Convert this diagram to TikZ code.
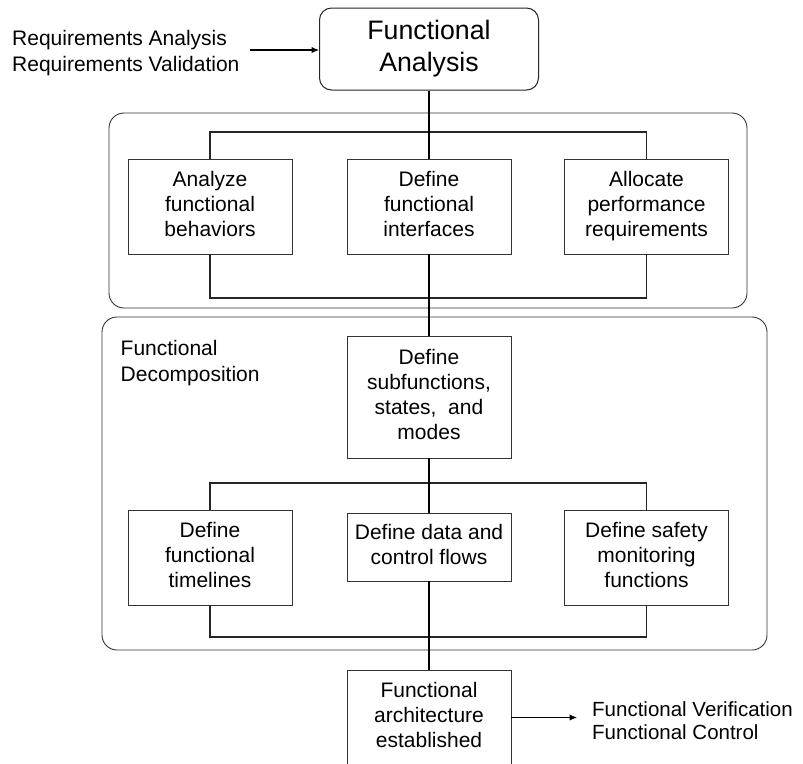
\documentclass[tikz,border=0pt]{standalone}
\usepackage{fontspec}
\setmainfont{Liberation Sans}
\usetikzlibrary{arrows.meta}
% invisible rules that fix the height above the first line and below the last
\newcommand{\topprop}{\rule{0pt}{19.5pt}}
\newcommand{\botprop}{\rule[-5.5pt]{0pt}{5.5pt}}
\begin{document}
\begin{tikzpicture}[x=1pt,y=-1pt,
  boxtxt/.style={font=\fontsize{21}{25}\selectfont},
  taskbox/.style={draw=black!80, line width=0.9pt, fill=white,
    minimum width=164pt, minimum height=95pt, inner sep=0pt,
    align=center, boxtxt,
    execute at begin node=\topprop, execute at end node=\botprop},
  headbox/.style={draw=black!85, line width=1pt, fill=white,
    rounded corners=12pt, minimum width=219pt, minimum height=82pt,
    inner sep=0pt, align=center, font=\fontsize{26.7}{32}\selectfont},
  panel/.style={draw=black!80, line width=0.9pt, rounded corners=15pt,
    inner sep=0pt},
  note/.style={align=left, inner sep=0pt},
  link/.style={draw=black, line width=1.1pt},
  bus/.style={draw=black!85, line width=1.1pt},
  arrowlink/.style={link, -{Latex[length=7.5pt,width=6.5pt]}}]

\useasboundingbox (0,0) rectangle (803,763);
\clip (0,0) rectangle (803,763);

% ---- panels ----
\node[panel, minimum width=638pt, minimum height=195pt] (upper) at (428,210.5) {};
\node[panel, minimum width=665pt, minimum height=333pt] (lower) at (434.5,483.5) {};

% ---- top block ----
\node[headbox] (fa) at (429,49) {Functional\\Analysis};
\node[note, anchor=north west, font=\fontsize{21}{26}\selectfont]
  (req) at (12,30.5) {Requirements Analysis\\Requirements Validation};
\coordinate (reqend) at (250,50);
\draw[arrowlink] (reqend) -- (reqend -| fa.west);

% ---- upper panel tasks ----
\node[taskbox] (behav) at (210,206.5) {Analyze\\functional\\behaviors};
\node[taskbox] (iface) at (429,206.5) {Define\\functional\\interfaces};
\node[taskbox] (perf)  at (646.5,206.5) {Allocate\\performance\\requirements};

\coordinate (b1top) at (429,132);
\coordinate (b1bot) at (429,298);
\draw[bus] (behav.north) |- (b1top) -| (perf.north);
\draw[bus] (behav.south) |- (b1bot) -| (perf.south);

% ---- lower panel ----
\node[note, anchor=north west, font=\fontsize{21}{26}\selectfont]
  (decomp) at (120.5,340) {Functional\\Decomposition};
\node[taskbox, minimum height=122pt] (subfn) at (429,397)
  {Define\\subfunctions,\\states,~ and\\modes};

\node[taskbox] (timel) at (210,557.5) {Define\\functional\\timelines};
\node[taskbox, minimum height=68pt] (data) at (429,547) {Define data and\\control flows};
\node[taskbox] (safety) at (646.5,557.5) {Define safety\\monitoring\\functions};

\coordinate (b2top) at (429,483);
\coordinate (b2bot) at (429,637);
\draw[bus] (timel.north) |- (b2top) -| (safety.north);
\draw[bus] (timel.south) |- (b2bot) -| (safety.south);

% ---- result ----
\node[taskbox] (arch) at (429,717.5) {Functional\\architecture\\established};
\node[note, anchor=north west, font=\fontsize{20.5}{23}\selectfont]
  (out) at (592,701.5) {Functional Verification\\Functional Control};
\coordinate (outtip) at (577,717.5);
\draw[arrowlink] (arch.east) -- (outtip);

% ---- main flow ----
\draw[link] (fa.south) -- (iface.north);
\draw[link] (iface.south) -- (subfn.north);
\draw[link] (subfn.south) -- (data.north);
\draw[link] (data.south) -- (arch.north);
\end{tikzpicture}
\end{document}
